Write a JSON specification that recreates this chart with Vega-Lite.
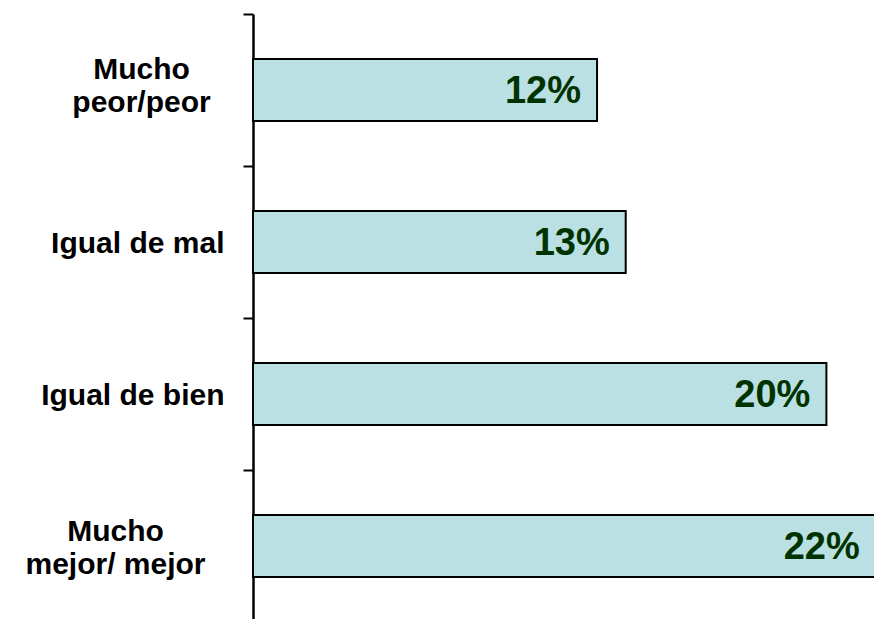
{
  "$schema": "https://vega.github.io/schema/vega-lite/v6.json",
  "width": 621,
  "height": 608,
  "autosize": "none",
  "padding": {"left": 253, "top": 14, "right": 0, "bottom": 0},
  "background": "white",
  "config": {"view": {"stroke": null}},
  "data": {
    "values": [
      {"categoria": "Mucho peor/peor", "valor": 0.12},
      {"categoria": "Igual de mal", "valor": 0.13},
      {"categoria": "Igual de bien", "valor": 0.20},
      {"categoria": "Mucho mejor/ mejor", "valor": 0.2172}
    ]
  },
  "encoding": {
    "y": {
      "field": "categoria",
      "type": "nominal",
      "sort": null,
      "scale": {"paddingInner": 0, "paddingOuter": 0},
      "axis": {
        "title": null,
        "bandPosition": 0,
        "domainColor": "black",
        "domainWidth": 2.5,
        "tickColor": "black",
        "tickWidth": 2,
        "tickSize": 10,
        "labelFont": "Liberation Sans",
        "labelFontWeight": "bold",
        "labelFontSize": 30,
        "labelColor": "black",
        "labelLineHeight": 33,
        "labelLimit": 300,
        "labelBound": false,
        "labelOverlap": false,
        "labelExpr": "indexof(datum.value,'Mucho ')==0 ? ['Mucho', substring(datum.value,6)] : datum.value",
        "labelAlign": {"condition": {"test": "indexof(datum.value,'Mucho')==0", "value": "center"}, "value": "right"},
        "labelOffset": {"condition": [{"test": "indexof(datum.value,'peor')>=0", "value": -20}, {"test": "indexof(datum.value,'mejor')>=0", "value": -14}], "value": 2},
        "labelPadding": {"condition": [{"test": "indexof(datum.value,'peor')>=0", "value": 102}, {"test": "indexof(datum.value,'mejor')>=0", "value": 128}], "value": 19}
      }
    },
    "x": {
      "field": "valor",
      "type": "quantitative",
      "scale": {"domain": [0, 0.2166], "nice": false, "zero": true},
      "axis": null
    }
  },
  "layer": [
    {
      "mark": {"type": "bar", "size": 62, "fill": "#BBE0E3", "stroke": "black", "strokeWidth": 2}
    },
    {
      "mark": {"type": "text", "align": "right", "baseline": "middle", "dx": -16, "dy": 2, "font": "Liberation Sans", "fontWeight": "bold", "fontSize": 38, "color": "#003300"},
      "encoding": {
        "text": {"field": "valor", "type": "quantitative", "format": ".0%"}
      }
    }
  ]
}
